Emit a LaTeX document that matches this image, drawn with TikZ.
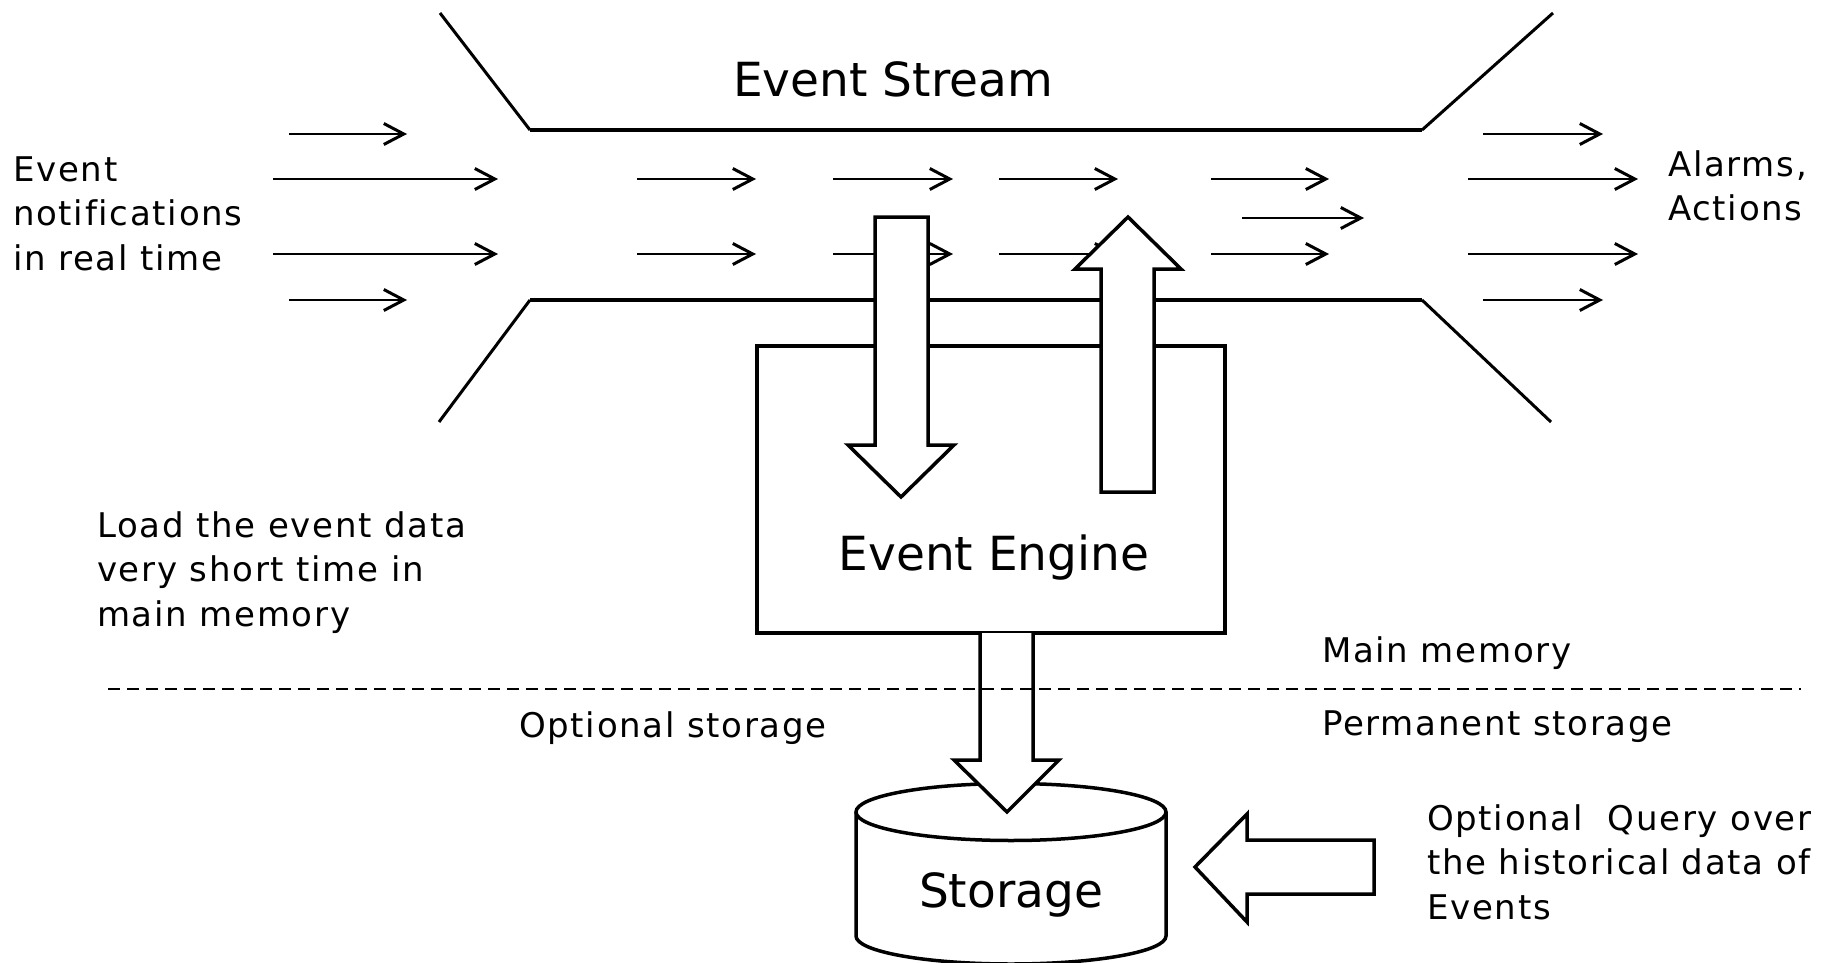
\documentclass[tikz,border=0pt]{standalone}
\usepackage{fontspec}
\setmainfont{DejaVu Sans}
\newfontfamily\labelfont[LetterSpace=5,Ligatures=CommonOff]{DejaVu Sans}
\usetikzlibrary{arrows.meta}

\begin{document}
\begin{tikzpicture}[x=1pt,y=-1pt,
  wall/.style={line width=3.5pt, line join=miter},
  slant/.style={line width=3pt},
  flow/.style={line width=1.8pt,-{Straight Barb[length=20pt,width=21pt,line width=3pt]}},
  block/.style={line width=3.5pt, fill=white, line join=miter},
  lbl/.style={font=\labelfont\fontsize{34}{44.5}\selectfont, inner sep=0pt, align=left, anchor=base west},
  head/.style={font=\fontsize{47}{56}\selectfont, inner sep=0pt, anchor=base},
]
\useasboundingbox (0,0) rectangle (1824,963);

% event stream channel
\draw[slant] (440,13) -- (530,130);
\draw[wall] (530,130) -- (1422,130);
\draw[slant] (1422,130) -- (1553,13);
\draw[slant] (439,422) -- (530,300);
\draw[wall] (530,300) -- (1422,300);
\draw[slant] (1422,300) -- (1551,422);

% events flowing through the stream
\foreach \a/\b/\y in {
  289/407/134, 273/498/179, 273/498/254, 289/407/300,
  637/756/179, 833/953/179, 999/1118/179, 1211/1329/179,
  637/756/254, 833/953/254, 999/1118/254, 1211/1329/254,
  1242/1364/218,
  1483/1603/134, 1468/1638/179, 1468/1638/254, 1483/1603/300}
  \draw[flow] (\a,\y) -- (\b,\y);

% event engine
\node[draw, line width=3.5pt, minimum width=468pt, minimum height=287pt, inner sep=0pt] (engine) at (991,489.5) {};
\node[head] (enginelabel) at (994,570) {Event Engine};

% data in and out of the engine
\draw[block] (875,217) -- (928,217) -- (928,445) -- (954,445) -- (901,497) -- (848,445) -- (875,445) -- cycle;
\draw[block] (1128,217) -- (1181,269) -- (1154,269) -- (1154,492) -- (1101,492) -- (1101,269) -- (1075,269) -- cycle;

% storage cylinder
\coordinate (storage) at (1011,812);
\draw[line width=3.5pt, fill=white] (856,812) -- (856,936) arc[start angle=180, end angle=0, x radius=155, y radius=28] -- (1166,812);
\draw[line width=3.5pt] (storage) ellipse [x radius=155, y radius=28.5];
\node[head] (storagelabel) at (1011,907) {Storage};

% engine to storage
\draw[block] (980,633) -- (980,760) -- (954,760) -- (1007,812) -- (1059,760) -- (1033,760) -- (1033,633);

% query over storage
\draw[block] (1195,867) -- (1247,814) -- (1247,840) -- (1374,840) -- (1374,894) -- (1247,894) -- (1247,922) -- cycle;

% memory boundary
\draw[line width=2.5pt, dash pattern=on 12pt off 7pt] (108,689) -- (1801,689);

% labels (multi-line labels are placed by the baseline of their last line)
\node[head, anchor=base west] (stream) at (733,97) {Event Stream};
\node[lbl] (input) at (13,270) {Event\\notifications\\in real time};
\node[lbl] (output) at (1668,220.5) {Alarms,\\Actions};
\node[lbl] (note) at (97,626) {Load the event data\\very short time in\\main memory};
\node[lbl] (mainmem) at (1322,662) {Main memory};
\node[lbl] (perm) at (1322,735) {Permanent storage};
\node[lbl] (opt) at (519,737) {Optional storage};
\node[lbl] (query) at (1427,919) {Optional\ \ Query over\\the historical data of\\Events};
\end{tikzpicture}
\end{document}
